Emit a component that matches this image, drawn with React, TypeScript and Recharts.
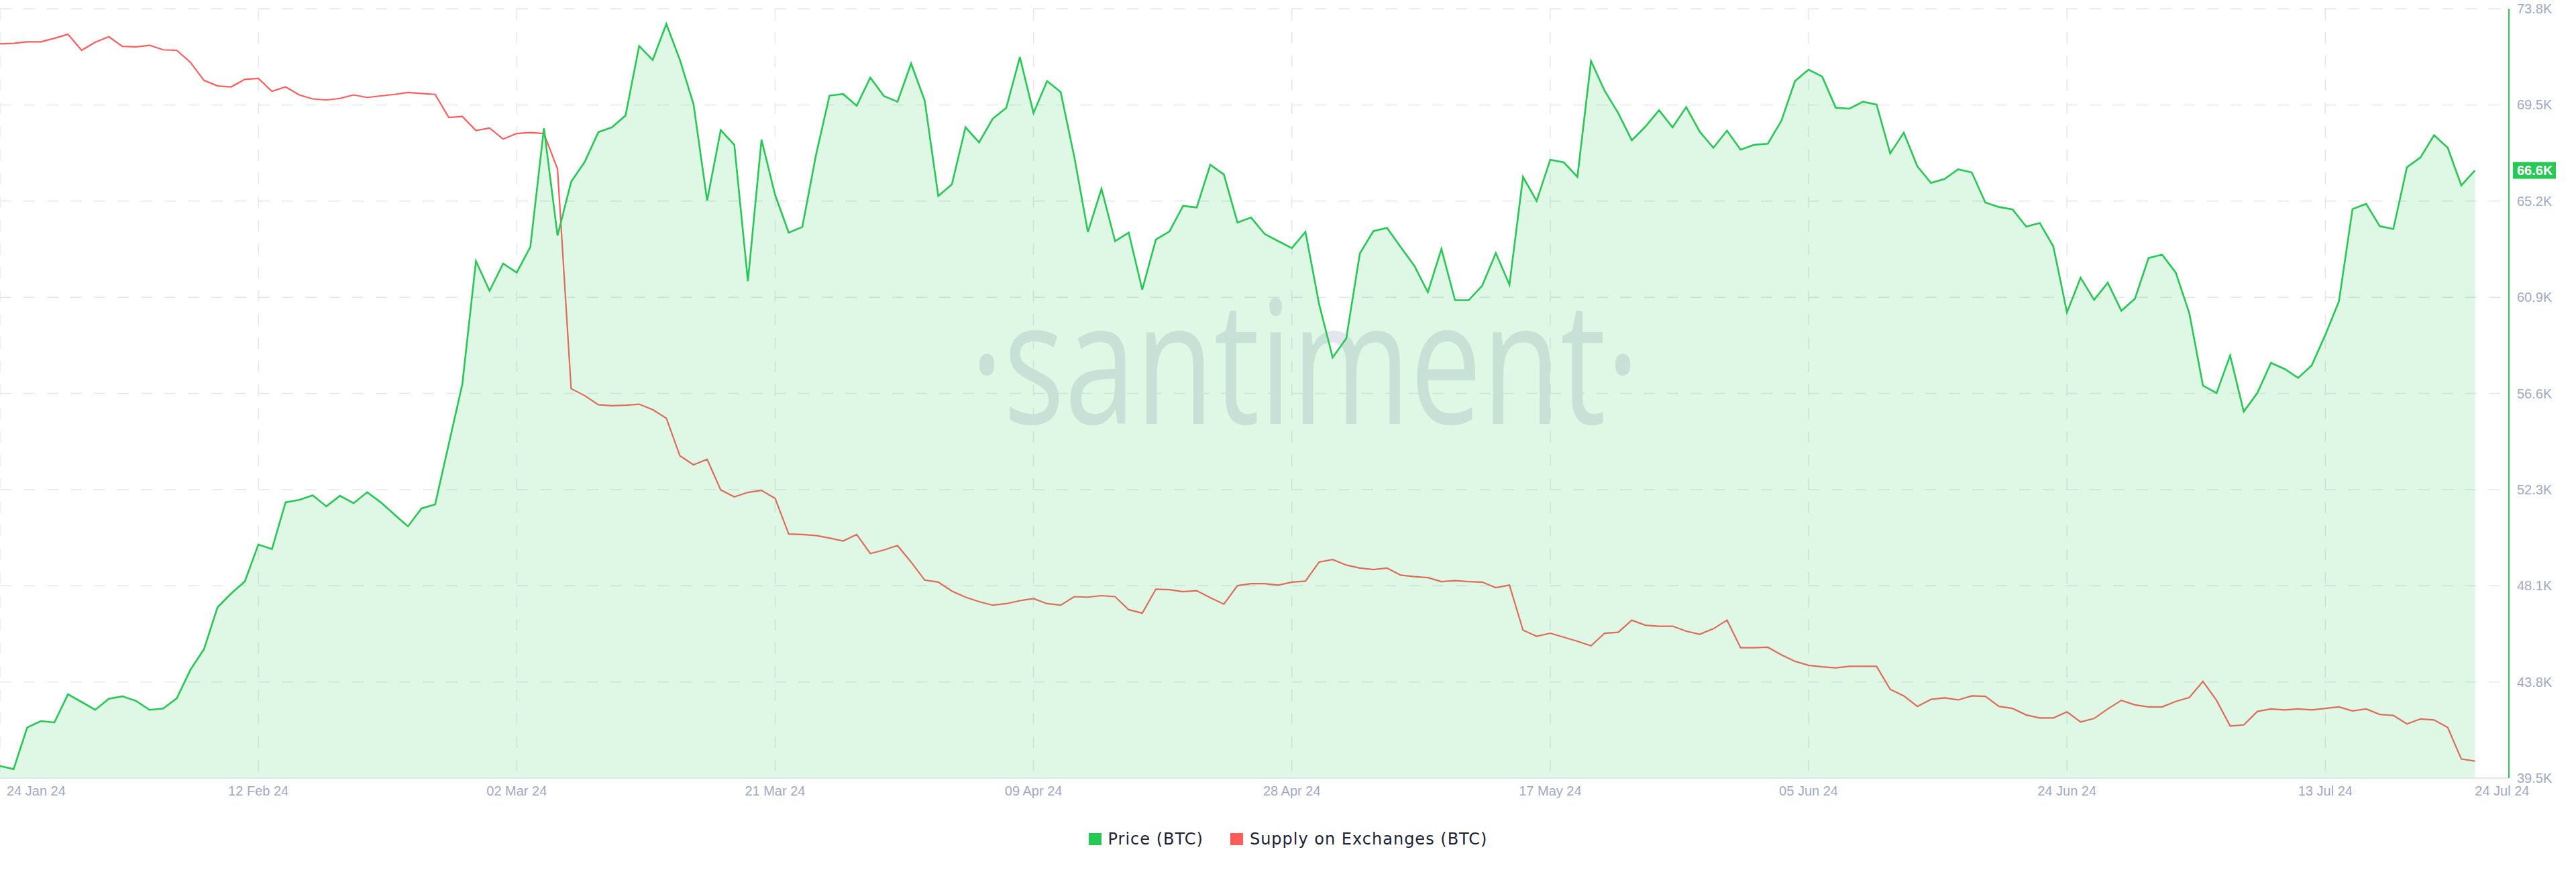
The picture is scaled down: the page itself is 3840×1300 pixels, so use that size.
import React from 'react';
import { ComposedChart, Area, Line, XAxis, YAxis, CartesianGrid, Legend, ReferenceLine } from 'recharts';

// Daily closes, 24 Jan 24 .. 24 Jul 24 (thousand USD)
const priceK = [
  40.04, 39.9, 41.75, 42.04, 41.98, 43.23, 42.89, 42.54, 43.03, 43.14,
  42.94, 42.54, 42.6, 43.05, 44.32, 45.24, 47.11, 47.72, 48.25, 49.9,
  49.7, 51.78, 51.89, 52.09, 51.6, 52.07, 51.74, 52.23, 51.78, 51.24,
  50.71, 51.51, 51.69, 54.37, 57.05, 62.52, 61.2, 62.41, 62.01, 63.15,
  68.44, 63.66, 66.05, 66.94, 68.26, 68.48, 69.0, 72.1, 71.48, 73.08,
  71.48, 69.51, 65.22, 68.35, 67.7, 61.63, 67.93, 65.47, 63.79, 64.04,
  67.23, 69.89, 69.96, 69.44, 70.69, 69.87, 69.62, 71.32, 69.67, 65.42,
  65.94, 68.48, 67.81, 68.86, 69.35, 71.61, 69.11, 70.54, 70.05, 67.17,
  63.82, 65.74, 63.41, 63.79, 61.25, 63.48, 63.84, 64.98, 64.91, 66.81,
  66.38, 64.24, 64.46, 63.73, 63.41, 63.1, 63.82, 60.62, 58.23, 59.08,
  62.86, 63.86, 64.0, 63.15, 62.32, 61.14, 63.06, 60.78, 60.78, 61.43,
  62.88, 61.47, 66.27, 65.2, 67.03, 66.92, 66.27, 71.43, 70.11, 69.11,
  67.9, 68.51, 69.24, 68.48, 69.38, 68.28, 67.57, 68.33, 67.48, 67.7,
  67.75, 68.77, 70.54, 71.05, 70.74, 69.35, 69.31, 69.62, 69.49, 67.32,
  68.24, 66.74, 66.0, 66.18, 66.61, 66.47, 65.13, 64.93, 64.82, 64.06,
  64.22, 63.17, 60.24, 61.78, 60.8, 61.56, 60.31, 60.85, 62.66, 62.81,
  62.01, 60.2, 56.98, 56.65, 58.32, 55.82, 56.65, 57.99, 57.72, 57.32,
  57.88, 59.24, 60.73, 64.84, 65.07, 64.08, 63.95, 66.7, 67.14, 68.13,
  67.57, 65.89, 66.56,
];

// BTC held on exchanges (thousand BTC)
const supplyK = [
  2186.0, 2186.2, 2186.8, 2186.8, 2188.2, 2189.8, 2183.4, 2186.6, 2188.8, 2185.0,
  2184.8, 2185.4, 2183.6, 2183.4, 2178.6, 2171.4, 2169.2, 2168.8, 2171.8, 2172.2,
  2167.0, 2168.8, 2165.6, 2164.0, 2163.6, 2164.2, 2165.6, 2164.6, 2165.2, 2165.8,
  2166.6, 2166.2, 2165.8, 2156.6, 2157.0, 2151.4, 2152.4, 2148.0, 2150.2, 2150.6,
  2150.2, 2136.0, 2048.4, 2045.6, 2042.0, 2041.6, 2041.8, 2042.2, 2040.0, 2036.6,
  2021.6, 2018.0, 2020.2, 2008.0, 2005.2, 2007.0, 2007.8, 2004.6, 1990.4, 1990.2,
  1989.8, 1988.8, 1987.6, 1990.2, 1982.6, 1984.0, 1985.8, 1979.2, 1972.0, 1971.2,
  1967.6, 1965.2, 1963.4, 1962.0, 1962.6, 1963.8, 1964.6, 1962.6, 1962.0, 1965.4,
  1965.2, 1965.8, 1965.4, 1960.2, 1958.8, 1968.4, 1968.2, 1967.4, 1967.8, 1965.0,
  1962.4, 1969.8, 1970.6, 1970.6, 1970.0, 1971.2, 1971.6, 1979.2, 1980.2, 1978.0,
  1976.8, 1976.2, 1976.8, 1974.0, 1973.4, 1973.0, 1971.4, 1971.8, 1971.4, 1971.2,
  1969.0, 1970.0, 1952.0, 1949.6, 1950.8, 1949.2, 1947.6, 1945.8, 1950.8, 1951.2,
  1956.0, 1954.0, 1953.6, 1953.6, 1951.6, 1950.4, 1952.6, 1956.0, 1945.0, 1945.0,
  1945.2, 1942.2, 1939.6, 1938.0, 1937.4, 1937.0, 1937.6, 1937.6, 1937.6, 1928.4,
  1925.8, 1921.6, 1924.4, 1925.0, 1924.2, 1925.8, 1925.6, 1921.6, 1920.8, 1918.2,
  1917.0, 1917.0, 1919.4, 1915.4, 1916.8, 1920.6, 1924.0, 1922.2, 1921.4, 1921.4,
  1923.6, 1925.2, 1931.6, 1924.0, 1913.8, 1914.2, 1919.6, 1920.6, 1920.2, 1920.6,
  1920.2, 1920.8, 1921.4, 1919.8, 1920.6, 1918.4, 1918.0, 1914.6, 1916.6, 1916.2,
  1913.2, 1900.6, 1899.8,
];

// x = days since 24 Jan 24
const xTickDays = [0, 19, 38, 57, 76, 95, 114, 133, 152, 171, 182];
const xTickLabels = [
  '24 Jan 24', '12 Feb 24', '02 Mar 24', '21 Mar 24', '09 Apr 24', '28 Apr 24',
  '17 May 24', '05 Jun 24', '24 Jun 24', '13 Jul 24', '24 Jul 24',
];
const gridDays = xTickDays.slice(0, -1);

const yTicks = [39.5, 43.7825, 48.065, 52.3475, 56.63, 60.9125, 65.195, 69.4775, 73.76];
const yTickLabels = ['39.5K', '43.8K', '48.1K', '52.3K', '56.6K', '60.9K', '65.2K', '69.5K', '73.8K'];

const data = priceK.map((p, i) => ({ day: i, price: p, supply: supplyK[i] }));
const lastPrice = priceK[priceK.length - 1];

const GREEN = '#26c953';
const RED = '#ff5b5b';
const TICK = '#a0a9c4';
const FONT = '"Liberation Sans", Arial, sans-serif';

const DateTick = (props: any) => {
  const { x, y, payload } = props;
  const i = xTickDays.indexOf(payload.value);
  const first = i === 0;
  const last = i === xTickDays.length - 1;
  return (
    <text
      x={first ? x + 10 : x}
      y={y}
      dy="0.71em"
      textAnchor={first || last ? 'start' : 'middle'}
      fill={TICK}
      fontSize={20}
      fontFamily={FONT}
    >
      {xTickLabels[i]}
    </text>
  );
};

const PriceBadge = (props: any) => {
  const { viewBox } = props;
  if (!viewBox) return null;
  const x = viewBox.x + viewBox.width + 6;
  const y = viewBox.y;
  return (
    <g>
      <rect x={x} y={y - 12.5} width={64} height={25} fill={GREEN} />
      <text x={x + 6} y={y} dy="0.36em" fill="#fff" fontSize={20} fontWeight="bold" fontFamily={FONT}>
        {lastPrice.toFixed(1)}K
      </text>
    </g>
  );
};

const LegendContent = () => (
  <div
    style={{
      display: 'flex',
      justifyContent: 'center',
      alignItems: 'flex-start',
      height: 80,
      paddingTop: 22,
      boxSizing: 'border-box',
      fontFamily: '"DejaVu Sans", sans-serif',
      fontSize: 24,
      letterSpacing: 1,
      color: '#1c2236',
    }}
  >
    {[
      { name: 'Price (BTC)', color: GREEN },
      { name: 'Supply on Exchanges (BTC)', color: RED },
    ].map((item, i) => (
      <div key={item.name} style={{ display: 'flex', alignItems: 'center', height: 18, marginLeft: i ? 40 : 0 }}>
        <span style={{ width: 19, height: 18, background: item.color, marginRight: 10, display: 'inline-block' }} />
        <span style={{ lineHeight: '18px' }}>{item.name}</span>
      </div>
    ))}
  </div>
);

const App: React.FC = () => {
  return (
    <div style={{ position: 'absolute', left: 0, top: 0, width: 3840, height: 1300, background: '#fff' }}>
      {/* watermark sits under the translucent area fill */}
      <svg width={3840} height={1300} style={{ position: 'absolute', left: 0, top: 0 }}>
        <text
          x={1446}
          y={632}
          textLength={998}
          lengthAdjust="spacingAndGlyphs"
          fontSize={255}
          fontWeight={500}
          fontFamily='"Open Sans", sans-serif'
          fill="#e3e6ef"
        >
          ·santiment·
        </text>
      </svg>
      <div style={{ position: 'absolute', left: 0, top: 0 }}>
        <ComposedChart width={3840} height={1300} data={data} margin={{ top: 13, right: 0, bottom: 0, left: 0 }}>
          <CartesianGrid
            yAxisId="price"
            verticalValues={gridDays}
            stroke="#e4e7f0"
            strokeWidth={1.5}
            strokeDasharray="17 18"
          />
          <XAxis
            dataKey="day"
            type="number"
            domain={[0, 184.5]}
            allowDataOverflow
            ticks={xTickDays}
            interval={0}
            tickLine={false}
            tickSize={0}
            tickMargin={12}
            axisLine={{ stroke: '#e3e7ef', strokeWidth: 2 }}
            height={60}
            tick={<DateTick />}
          />
          <YAxis
            yAxisId="price"
            orientation="right"
            type="number"
            domain={[39.5, 73.76]}
            allowDataOverflow
            ticks={yTicks}
            interval={0}
            width={100}
            tickLine={false}
            tickSize={0}
            tickMargin={12}
            axisLine={{ stroke: GREEN, strokeWidth: 2 }}
            tick={{ fill: TICK, fontSize: 20, fontFamily: FONT, textAnchor: 'start' }}
            tickFormatter={(v: number, i: number) => yTickLabels[i] ?? `${v.toFixed(1)}K`}
          />
          <YAxis yAxisId="supply" hide type="number" domain={[1893, 2200]} allowDataOverflow />
          <Line
            yAxisId="supply"
            type="linear"
            dataKey="supply"
            name="Supply on Exchanges (BTC)"
            stroke={RED}
            strokeWidth={2.2}
            dot={false}
            activeDot={false}
            zIndex={50}
            isAnimationActive={false}
          />
          <Area
            yAxisId="price"
            type="linear"
            dataKey="price"
            name="Price (BTC)"
            stroke={GREEN}
            strokeWidth={2.6}
            fill={GREEN}
            fillOpacity={0.15}
            dot={false}
            activeDot={false}
            zIndex={100}
            isAnimationActive={false}
          />
          <ReferenceLine yAxisId="price" y={lastPrice} stroke="none" label={<PriceBadge />} />
          <Legend verticalAlign="bottom" height={80} content={<LegendContent />} wrapperStyle={{ left: 0, width: 3840 }} />
        </ComposedChart>
      </div>
    </div>
  );
};

export default App;
